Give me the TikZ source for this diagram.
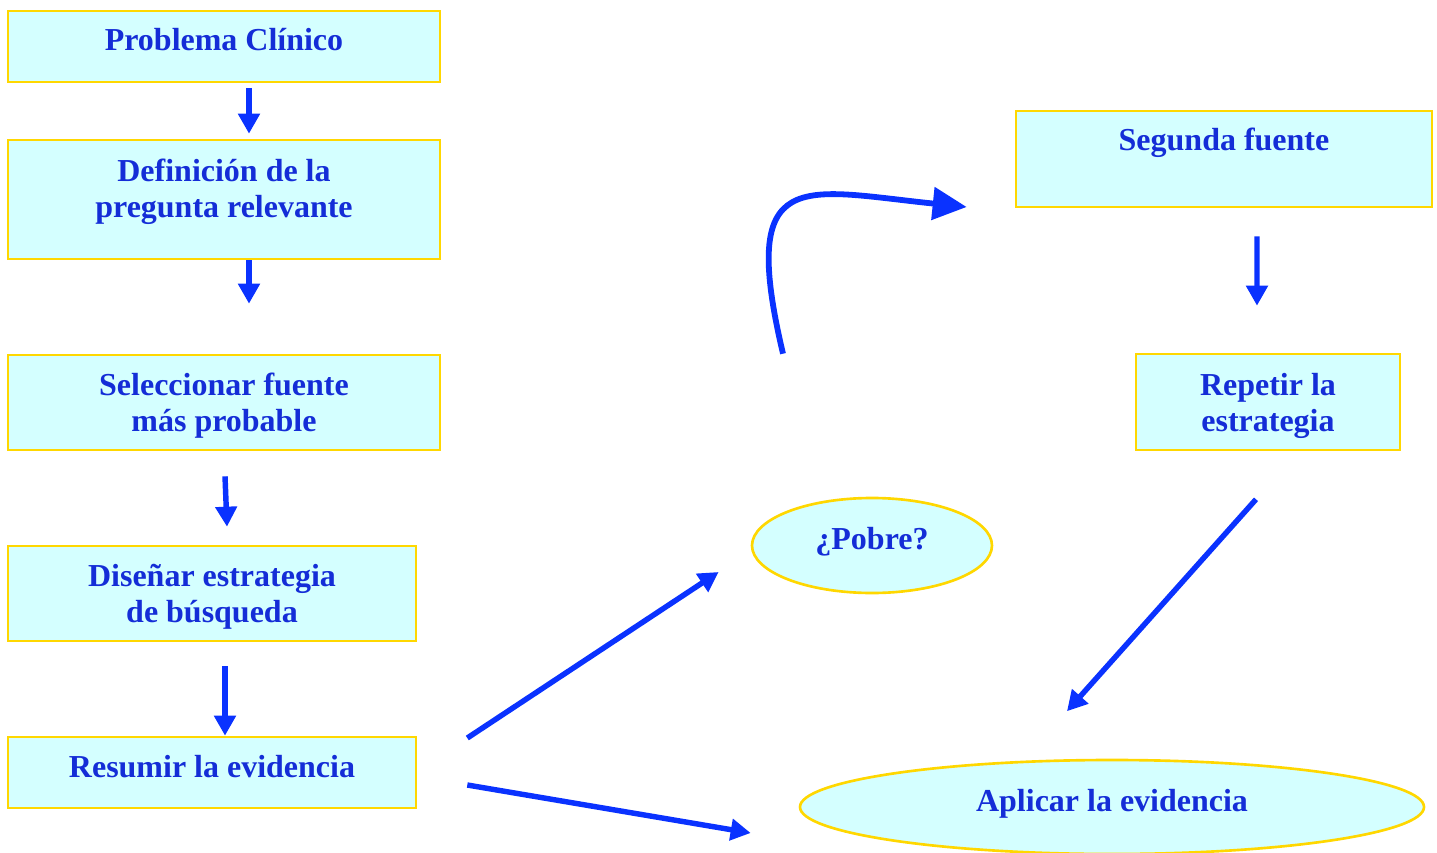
\documentclass[tikz,border=0pt]{standalone}
\usepackage{fontspec}
\setmainfont{Liberation Serif}
\usepackage{tikz}
\usetikzlibrary{shapes.geometric, arrows.meta}

\definecolor{boxfill}{RGB}{212,255,255}
\definecolor{boxline}{RGB}{255,215,0}
\definecolor{textblue}{RGB}{20,45,215}
\definecolor{arrowblue}{RGB}{10,50,255}

\begin{document}
\begin{tikzpicture}[
		box/.style = {rectangle, draw=boxline, fill=boxfill, line width=1.5pt, text=textblue, font=\fontsize{18.2}{20.5}\selectfont\bfseries, align=center},
		oval/.style = {ellipse, draw=boxline, fill=boxfill, line width=1.5pt, text=textblue, font=\fontsize{18.2}{20.5}\selectfont\bfseries},
		arrow/.style = {draw=arrowblue, line width=3.1pt, -{Triangle[length=0.4cm, width=0.42cm]}},
		bigarrow/.style = {draw=arrowblue, line width=3.3pt, -{Triangle[length=0.68cm, width=0.64cm]}}
		]
		\useasboundingbox (0,0) rectangle (28.74,-17.06);
		
		% Boxes
		\node[box, minimum width=8.64cm, minimum height=1.42cm, text depth=0.3cm] (Problema) at (4.48,-0.93) {Problema Clínico};
		\node[box, minimum width=8.64cm, minimum height=2.38cm] (Definicion) at (4.48,-3.99) {Definición de la\\pregunta relevante\rule[-0.47cm]{0pt}{0pt}};
		\node[box, minimum width=8.64cm, minimum height=1.9cm] (Seleccionar) at (4.48,-8.05) {\rule{0pt}{0.58cm}Seleccionar fuente\\más probable};
		\node[box, minimum width=8.16cm, minimum height=1.9cm] (Disenar) at (4.24,-11.87) {\rule{0pt}{0.58cm}Diseñar estrategia\\de búsqueda};
		\node[box, minimum width=8.16cm, minimum height=1.42cm, text depth=0.26cm] (Resumir) at (4.24,-15.45) {Resumir la evidencia};
		\node[box, minimum width=8.32cm, minimum height=1.92cm, text depth=0.78cm] (Segunda) at (24.48,-3.18) {Segunda fuente};
		\node[box, minimum width=5.28cm, minimum height=1.92cm] (Repetir) at (25.36,-8.04) {\rule{0pt}{0.6cm}Repetir la\\estrategia};
		\node[oval, minimum width=4.8cm, minimum height=1.9cm, text depth=0.3cm] (Pobre) at (17.44,-10.91) {¿Pobre?};
		\node[oval, minimum width=12.48cm, minimum height=1.88cm, text depth=0.26cm] (Aplicar) at (22.24,-16.14) {Aplicar la evidencia};
		
		% Arrows
		\draw[arrow] ([shift={(0.5,-0.1)}]Problema.south) -- ([shift={(0.5,0.1)}]Definicion.north);
		\draw[arrow] ([shift={(0.5,0)}]Definicion.south) -- ([shift={(0.5,1.0)}]Seleccionar.north);
		\draw[arrow] ([shift={(0.02,-0.5)}]Seleccionar.south) -- ([shift={(0.3,0.36)}]Disenar.north);
		\draw[arrow] ([shift={(0.26,-0.48)}]Disenar.south) -- ([shift={(0.26,0)}]Resumir.north);
		\draw[arrow] ([shift={(1.0,0.69)}]Resumir.east) -- ([shift={(-0.64,-0.53)}]Pobre.west);
		\draw[arrow] ([shift={(1.0,-0.25)}]Resumir.east) -- ([shift={(-0.96,-0.52)}]Aplicar.west);
		\draw[bigarrow] ([shift={(-1.78,2.86)}]Pobre.north) .. controls +(-0.9,3.8) and +(-3.3,0.34) .. ([shift={(-0.96,-0.96)}]Segunda.west);
		\draw[arrow] ([shift={(0.66,-0.56)}]Segunda.south) -- ([shift={(-0.22,0.94)}]Repetir.north);
		\draw[arrow] ([shift={(-0.24,-0.96)}]Repetir.south) -- ([shift={(-0.9,0.95)}]Aplicar.north);
		
	\end{tikzpicture}
\end{document}
